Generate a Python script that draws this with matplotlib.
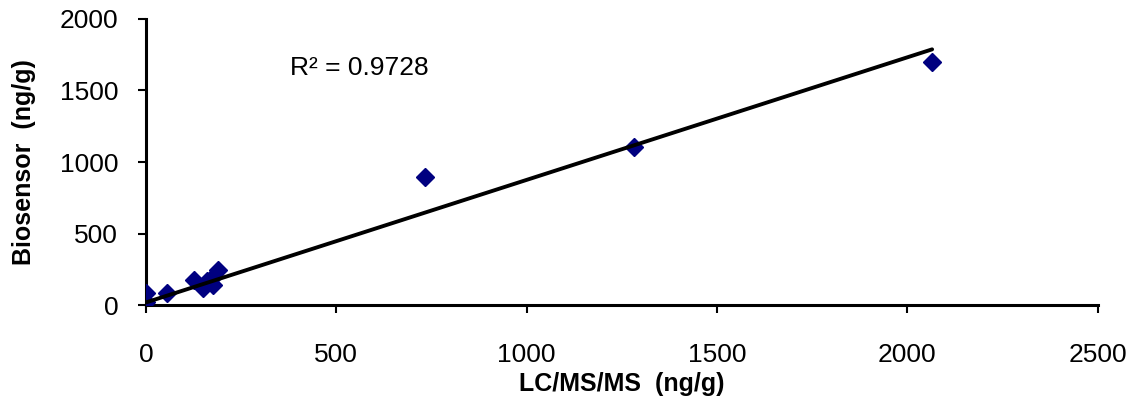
import numpy as np
import matplotlib.pyplot as plt

plt.rcParams['font.family'] = ['Liberation Sans', 'DejaVu Sans']

# LC/MS/MS vs biosensor results (ng/g)
lcms = [0, 0, 55, 125, 150, 160, 175, 180, 190, 733, 1282, 2065]
biosensor = [85, 20, 85, 175, 120, 170, 140, 200, 245, 895, 1105, 1697]

# excel linear trendline as drawn in the reference
TREND_SLOPE = 0.857
TREND_INTERCEPT = 18
r2_text = "R² = 0.9728"

x = np.array(lcms)
y = np.array(biosensor)
xl = np.array([x.min(), x.max()])

fig = plt.figure(figsize=(11.34, 4.04), dpi=100)
ax = fig.add_axes([0.1287, 0.245, 0.8393, 0.708])

ax.plot(x, y, linestyle='none', marker='D', markersize=9.5, color='#000080', zorder=3)
ax.plot(xl, TREND_SLOPE * xl + TREND_INTERCEPT, color='black', lw=2.8,
        solid_capstyle='round', zorder=4)

ax.text(378, 1657, r2_text, fontsize=19, ha='left', va='center')

ax.set_xlim(0, 2500)
ax.set_ylim(0, 2000)
ax.set_xticks([0, 500, 1000, 1500, 2000, 2500])
ax.set_yticks([0, 500, 1000, 1500, 2000])

for s in ['top', 'right']:
    ax.spines[s].set_visible(False)
for s in ['left', 'bottom']:
    ax.spines[s].set_linewidth(2.2)
    ax.spines[s].set_color('black')

ax.tick_params(axis='x', direction='out', length=6, width=1.5, labelsize=19, pad=21)
ax.tick_params(axis='y', direction='out', length=6, width=1.5, labelsize=19, pad=14)

ax.set_xlabel("LC/MS/MS  (ng/g)", fontsize=18, fontweight='bold', labelpad=4)
ax.set_ylabel("Biosensor  (ng/g)", fontsize=18, fontweight='bold', labelpad=17)

fig.savefig("out.png", dpi=100)
